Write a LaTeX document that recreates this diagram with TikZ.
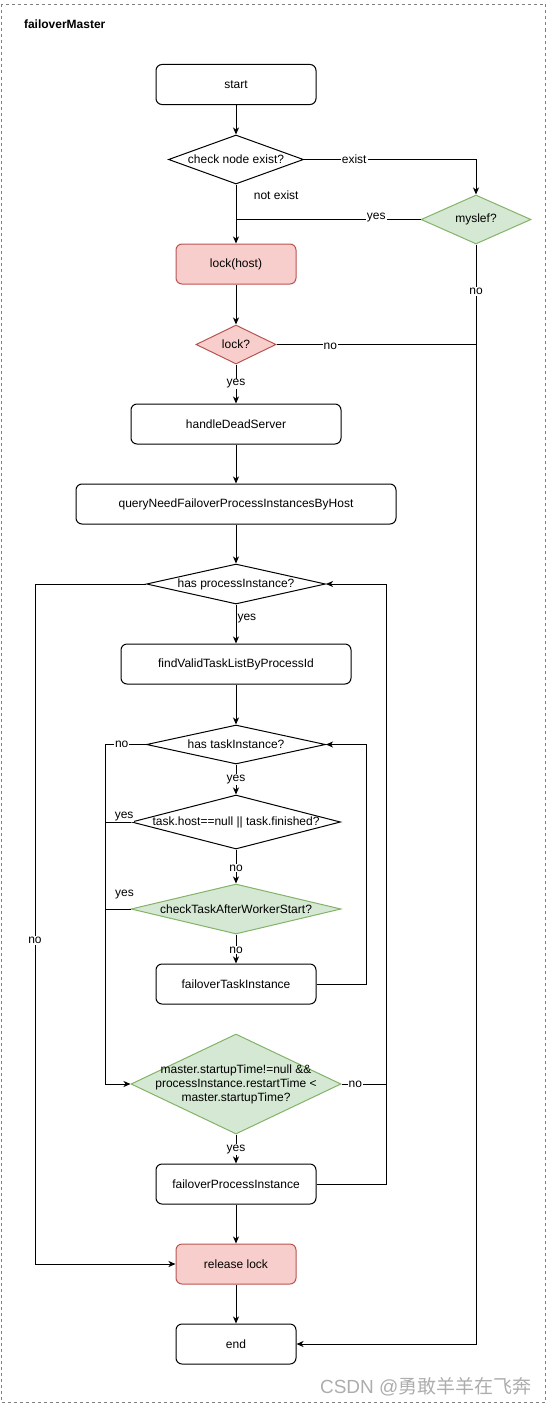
\documentclass[tikz,border=0pt]{standalone}
\usepackage{fontspec}
\setmainfont{Liberation Sans}
\newfontfamily\cjk{Noto Sans CJK SC}
\usetikzlibrary{arrows.meta,shapes.geometric}

\definecolor{redfill}{HTML}{F8CECC}
\definecolor{redline}{HTML}{B85450}
\definecolor{greenfill}{HTML}{D5E8D4}
\definecolor{greenline}{HTML}{82B366}

\tikzset{
  every node/.style={font=\fontsize{12}{14}\selectfont},
  box/.style={draw, rounded corners=6pt, line width=1pt, minimum width=160pt, minimum height=40pt, inner sep=0pt},
  redbox/.style={box, fill=redfill, draw=redline, minimum width=120pt},
  dia/.style={diamond, draw, line width=1pt, inner sep=0pt},
  greendia/.style={dia, fill=greenfill, draw=greenline},
  reddia/.style={dia, fill=redfill, draw=redline},
  arr/.style={-{Stealth[length=7pt, width=6pt, inset=2pt]}, line width=1pt},
  line/.style={line width=1pt},
  lbl/.style={fill=white, inner sep=1pt}
}

\begin{document}
\begin{tikzpicture}[x=1pt, y=-1pt]
    % Rahmen
    \useasboundingbox (0,0) rectangle (547,1405);
    \draw[gray, dashed, line width=0.8pt] (1.5,4.5) rectangle (545.5,1402);
    \node[anchor=west, font=\fontsize{12}{14}\selectfont\bfseries] (title) at (20.5,24.5) {failoverMaster};

    % Knoten
    \node[box] (start) at (236,84.5) {start};
    \node[dia, minimum width=135pt, minimum height=49pt, label=center:{check node exist?}] (check) at (236,159.5) {};
    \node[greendia, minimum width=110pt, minimum height=49pt, label=center:{myslef?}] (myslef) at (476,219.5) {};
    \node[redbox] (lockhost) at (236,264) {lock(host)};
    \node[reddia, minimum width=80pt, minimum height=39pt, label=center:{lock?}] (lock) at (236,344.5) {};
    \node[box, minimum width=210pt] (handle) at (236,424) {handleDeadServer};
    \node[box, minimum width=320pt] (query) at (236,504) {queryNeedFailoverProcessInstancesByHost};
    \node[dia, minimum width=179pt, minimum height=40pt, label=center:{has processInstance?}] (hasproc) at (236,584) {};
    \node[box, minimum width=230pt] (findvalid) at (236,664) {findValidTaskListByProcessId};
    \node[dia, minimum width=179pt, minimum height=39pt, label=center:{has taskInstance?}] (hastask) at (236,744.5) {};
    \node[dia, minimum width=209pt, minimum height=54pt, label=center:{task.host==null || task.finished?}] (taskhost) at (236,822) {};
    \node[greendia, minimum width=210pt, minimum height=50pt, label=center:{checkTaskAfterWorkerStart?}] (checktask) at (236,909) {};
    \node[box] (failtask) at (236,984) {failoverTaskInstance};
    \node[greendia, minimum width=210pt, minimum height=100pt, label={[align=center, font=\fontsize{12}{14}\selectfont]center:{master.startupTime!=null \&\&\\processInstance.restartTime <\\master.startupTime?}}] (master) at (236,1084) {};
    \node[box] (failproc) at (236,1184) {failoverProcessInstance};
    \node[redbox] (release) at (236,1264) {release lock};
    \node[box, minimum width=120pt] (end) at (236,1344) {end};

    % Verbindungen
    \draw[arr] (start) -- (check);
    \draw[arr] (check.east) -| node[lbl, pos=0.146] {exist} (myslef.north);
    \draw[arr] (check.south) -- node[pos=0.18, anchor=west, xshift=14pt] {not exist} (lockhost.north);
    \draw[line] (myslef.west) -- node[lbl, pos=0.24, yshift=2pt] {yes} (myslef.west -| lockhost.north);
    \draw[arr] (lockhost) -- (lock);
    \draw[line] (lock.east) -- node[lbl, pos=0.27, yshift=-2pt] {no} (lock.east -| myslef.south);
    \draw[arr] (myslef.south) |- node[lbl, pos=0.0214] {no} (end.east);
    \draw[arr] (lock.south) -- node[lbl] {yes} (handle.north);
    \draw[arr] (handle) -- (query);
    \draw[arr] (query) -- (hasproc);
    \draw[arr] (hasproc.west) -- (35,584) |- node[lbl, pos=0.262] {no} (release.west);
    \draw[arr] (hasproc.south) -- node[pos=0.35, anchor=west, inner sep=1pt] {yes} (findvalid.north);
    \draw[arr] (findvalid) -- (hastask);
    \draw[arr] (hastask.west) -- node[lbl, pos=0.6] {no} (105.5,744.5) |- (master.west);
    \draw[arr] (hastask.south) -- node[lbl] {yes} (taskhost.north);
    \draw[line] (taskhost.west) -- node[lbl, pos=0.27, yshift=5pt] {yes} (105.5,822);
    \draw[arr] (taskhost.south) -- node[lbl, pos=0.54] {no} (checktask.north);
    \draw[line] (checktask.west) -- node[pos=0.24, yshift=14pt] {yes} (105.5,909);
    \draw[arr] (checktask.south) -- node[lbl, pos=0.53] {no} (failtask.north);
    \draw[arr] (failtask.east) -- (366,984) |- (hastask.east);
    \draw[line] (master.east) -- node[lbl, pos=0.31] {no} (386,1084);
    \draw[arr] (master.south) -- node[lbl, pos=0.53] {yes} (failproc.north);
    \draw[arr] (failproc.east) -- (386,1184) |- (hasproc.east);
    \draw[arr] (failproc) -- (release);
    \draw[arr] (release) -- (end);

    % Wasserzeichen
    \node[anchor=east, text=black!32, font=\fontsize{19}{22}\selectfont] (mark) at (535,1387) {CSDN @{\cjk 勇敢羊羊在飞奔}};
\end{tikzpicture}
\end{document}
